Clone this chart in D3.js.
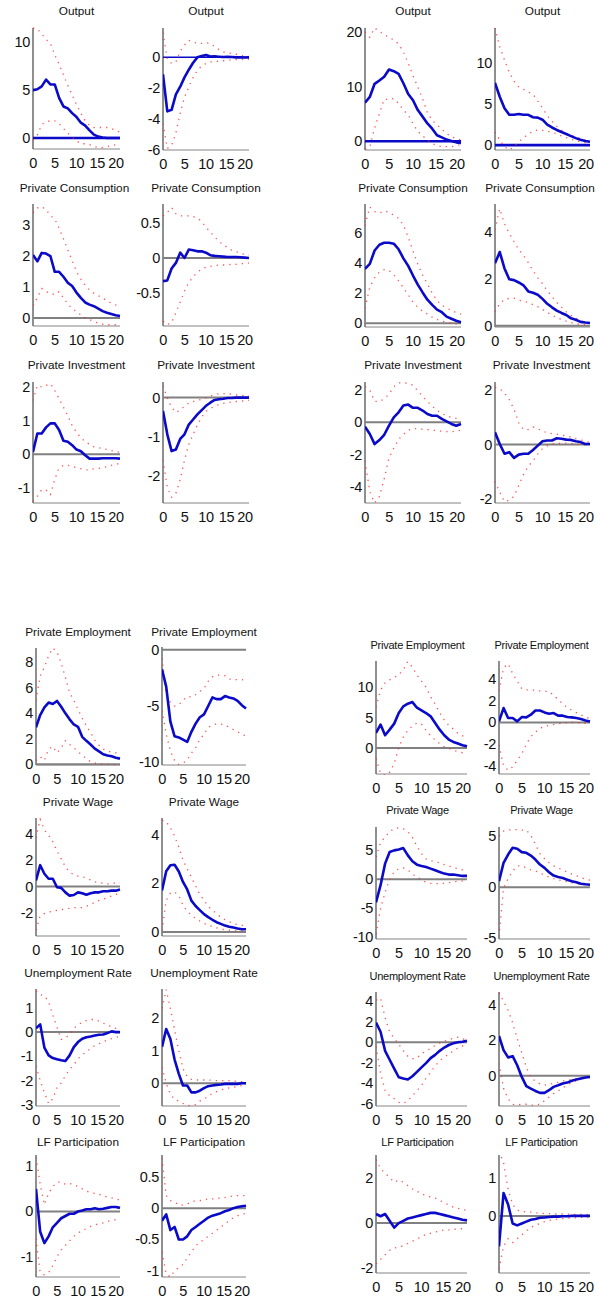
<!DOCTYPE html>
<html><head><meta charset="utf-8">
<script src="https://cdn.jsdelivr.net/npm/d3@7"></script>
<style>
body{margin:0;background:#fff}
svg{display:block}
text{font-family:"Liberation Sans",Arial,sans-serif;fill:#111}
</style>
</head><body>
<svg id="c" width="598" height="1302"></svg>
<script>
// ---------------- DATA ----------------
const horizons = [0,1,2,3,4,5,6,7,8,9,10,11,12,13,14,15,16,17,18,19,20];
const xTickValues = [0,5,10,15,20];
const xTickLabels = ["0","5","10","15","20"];

// Output
const p01_irf=[5.0,5.1,5.4,6.1,5.6,5.6,4.2,3.3,3.1,2.6,2.2,1.6,1.3,0.8,0.35,0.15,0.05,0,0,0,0];
const p01_hi=[11.5,11.4,10.9,10.3,9.9,8.7,7.7,6.6,5.5,4.5,3.5,2.6,1.8,1.3,1.1,1.1,1.1,1.1,1.0,0.8,0.6];
const p01_lo=[-0.2,0.3,1.4,1.7,1.8,1.8,1.5,1.0,0.5,0.1,-0.3,-0.6,-0.6,-0.7,-0.9,-1.0,-1.0,-0.9,-0.8,-0.7,-0.6];
const p02_irf=[-1.1,-3.5,-3.4,-2.4,-1.9,-1.3,-0.8,-0.35,0.0,0.08,0.15,0.05,0.06,0.04,0.02,0.04,0.02,0.0,0.0,-0.01,0.0];
const p02_hi=[1.6,-0.1,-0.4,-0.3,0.4,0.8,1.1,1.0,0.9,0.9,0.95,0.9,0.7,0.5,0.35,0.3,0.25,0.2,0.12,0.08,0.05];
const p02_lo=[-4.3,-5.9,-5.7,-4.9,-3.6,-2.6,-1.9,-1.3,-0.85,-0.55,-0.4,-0.3,-0.27,-0.25,-0.22,-0.2,-0.15,-0.14,-0.13,-0.13,-0.12];
const p03_irf=[7.05,8.1,10.5,11.1,11.8,13.1,12.8,12.3,10.6,8.65,7.5,5.7,4.5,3.25,2.3,1.1,0.7,0.3,0.05,-0.2,-0.3];
const p03_hi=[20,19,20.7,20.1,19.5,19,18.5,17.8,16.3,14.3,12.0,9.9,7.8,5.2,3.8,3.0,2.2,1.4,0.8,0.5,0.2];
const p03_lo=[-1.4,-1.0,2.4,5.1,7.7,7.6,7.8,6.9,5.7,4.8,3.2,1.8,1.0,0.2,-0.4,-0.8,-1.0,-1.0,-1.0,-0.8,-0.6];
const p04_irf=[7.6,5.9,4.5,3.7,3.7,3.8,3.7,3.7,3.4,3.35,3.1,2.5,2.15,1.85,1.6,1.35,1.1,0.85,0.65,0.5,0.4];
const p04_hi=[14.3,12,10.4,8.9,7.8,7.1,6.8,6.5,6.2,5.4,4.5,3.6,2.9,2.3,1.8,1.4,1.2,1.0,0.8,0.6,0.5];
const p04_lo=[1.6,0.6,-0.2,-0.6,-0.2,0.4,0.9,1.3,1.7,1.85,1.8,1.7,1.55,1.4,1.1,0.9,0.7,0.55,0.4,0.3,0.2];
// Private Consumption
const p05_irf=[2.03,1.83,2.1,2.08,2.0,1.49,1.49,1.33,1.14,1.03,0.82,0.65,0.5,0.43,0.38,0.3,0.22,0.17,0.13,0.09,0.065];
const p05_hi=[3.4,3.55,3.6,3.5,3.3,3.2,2.9,2.55,2.2,1.85,1.5,1.25,1.05,0.9,0.8,0.72,0.65,0.55,0.48,0.42,0.38];
const p05_lo=[0.4,0.65,0.95,0.85,0.8,0.75,0.85,0.65,0.45,0.3,0.2,0.1,0.0,-0.05,-0.12,-0.17,-0.2,-0.22,-0.22,-0.22,-0.22];
const p06_irf=[-0.33,-0.32,-0.15,-0.07,0.076,0.0,0.12,0.11,0.095,0.095,0.076,0.04,0.03,0.025,0.02,0.015,0.015,0.015,0.01,0.005,0.0];
const p06_hi=[0.6,0.65,0.72,0.63,0.6,0.6,0.6,0.59,0.57,0.52,0.44,0.37,0.3,0.24,0.19,0.15,0.11,0.09,0.07,0.05,0.04];
const p06_lo=[-0.9,-0.95,-0.92,-0.78,-0.63,-0.47,-0.35,-0.27,-0.2,-0.16,-0.13,-0.12,-0.11,-0.1,-0.1,-0.1,-0.09,-0.09,-0.08,-0.08,-0.07];
const p07_irf=[3.6,3.93,4.82,5.2,5.33,5.33,5.27,4.9,4.3,3.8,3.16,2.56,2.04,1.56,1.22,0.9,0.73,0.44,0.3,0.16,0.07];
const p07_hi=[6.5,7.7,7.4,7.3,7.45,7.35,7.15,6.95,6.5,5.7,4.8,3.9,3.2,2.6,2.0,1.5,1.2,1.0,0.85,0.7,0.6];
const p07_lo=[1.0,2.4,3.0,3.4,3.55,3.5,3.2,2.8,2.35,1.9,1.4,1.05,0.8,0.6,0.4,0.25,0.15,0.05,0.0,-0.05,-0.1];
const p08_irf=[2.67,3.15,2.45,1.99,1.95,1.85,1.73,1.47,1.41,1.33,1.15,0.94,0.79,0.65,0.55,0.46,0.32,0.26,0.17,0.14,0.12];
const p08_hi=[4.1,5.0,4.35,3.95,3.6,3.25,3.0,2.7,2.35,2.05,1.8,1.5,1.25,1.0,0.8,0.6,0.45,0.33,0.22,0.15,0.1];
const p08_lo=[0.6,0.95,1.13,1.17,1.18,1.1,1.05,1.0,0.9,0.82,0.7,0.58,0.45,0.36,0.27,0.2,0.14,0.09,0.06,0.04,0.02];
// Private Investment
const p09_irf=[0.07,0.62,0.62,0.8,0.92,0.92,0.72,0.4,0.37,0.27,0.14,0.09,-0.03,-0.13,-0.13,-0.13,-0.12,-0.12,-0.12,-0.12,-0.13];
const p09_hi=[1.6,2.05,2.0,2.05,2.1,1.9,1.65,1.4,1.15,0.85,0.65,0.5,0.37,0.3,0.22,0.2,0.17,0.14,0.11,0.08,0.06];
const p09_lo=[-1.4,-1.25,-1.05,-1.07,-1.2,-0.75,-0.4,-0.33,-0.33,-0.36,-0.4,-0.43,-0.46,-0.47,-0.43,-0.42,-0.4,-0.37,-0.33,-0.3,-0.27];
const p10_irf=[-0.34,-0.94,-1.37,-1.33,-1.06,-0.94,-0.69,-0.56,-0.43,-0.32,-0.21,-0.13,-0.06,-0.04,-0.03,-0.01,-0.01,0,0,0,0];
const p10_hi=[0.3,0.0,-0.25,-0.38,-0.32,-0.22,-0.14,-0.1,-0.07,-0.04,-0.01,0.04,0.07,0.1,0.1,0.1,0.09,0.07,0.06,0.05,0.04];
const p10_lo=[-1.6,-2.3,-2.55,-2.45,-2.1,-1.6,-1.2,-0.95,-0.7,-0.5,-0.35,-0.28,-0.22,-0.18,-0.15,-0.13,-0.11,-0.1,-0.09,-0.08,-0.07];
const p11_irf=[-0.27,-0.72,-1.35,-1.1,-0.77,-0.21,0.31,0.62,1.04,1.1,0.9,0.9,0.73,0.52,0.41,0.41,0.21,0.06,-0.1,-0.21,-0.1];
const p11_hi=[2.2,2.0,1.3,1.3,1.45,1.75,2.2,2.45,2.45,2.42,2.3,1.95,1.6,1.3,1.0,0.75,0.55,0.4,0.3,0.25,0.2];
const p11_lo=[-2.4,-4.3,-5.0,-4.6,-3.5,-2.2,-1.6,-1.05,-0.75,-0.5,-0.38,-0.4,-0.43,-0.45,-0.48,-0.52,-0.55,-0.57,-0.58,-0.55,-0.48];
const p12_irf=[0.45,0.02,-0.34,-0.28,-0.49,-0.37,-0.34,-0.34,-0.2,-0.04,0.12,0.15,0.15,0.23,0.21,0.18,0.17,0.12,0.09,0.02,0.02];
const p12_hi=[2.1,2.05,1.9,1.65,1.3,0.8,0.55,0.55,0.65,0.58,0.5,0.43,0.4,0.38,0.35,0.32,0.28,0.22,0.17,0.12,0.08];
const p12_lo=[-1.35,-1.75,-2.1,-2.05,-1.9,-1.5,-1.1,-0.8,-0.6,-0.35,-0.15,-0.05,0.02,0.04,0.05,0.05,0.04,0.02,0.0,0.0,0.0];
// Private Employment
const p13_irf=[2.89,3.86,4.46,4.83,4.72,4.96,4.51,3.99,3.52,3.12,2.94,2.15,1.84,1.55,1.23,1.02,0.79,0.7,0.63,0.52,0.45];
const p13_hi=[5.0,6.9,7.6,8.5,9.1,8.8,7.9,6.8,5.6,5.0,4.3,3.6,3.0,2.5,1.9,1.5,1.2,1.05,0.95,0.9,0.85];
const p13_lo=[0.3,0.6,0.3,1.2,1.4,0.9,1.3,1.85,1.55,1.3,1.0,0.7,0.45,0.2,0.1,0.05,0.0,0.0,0.0,-0.03,-0.05];
const p14_irf=[-1.73,-3.28,-6.4,-7.7,-7.8,-8.0,-8.2,-7.3,-6.57,-6.0,-5.75,-5.0,-4.24,-4.39,-4.39,-4.12,-4.24,-4.33,-4.54,-4.93,-5.22];
const p14_hi=[-0.75,-3.9,-4.7,-5.0,-4.9,-4.5,-4.15,-4.2,-4.0,-3.7,-3.45,-2.8,-2.4,-2.25,-2.25,-2.3,-2.6,-2.65,-2.65,-2.65,-2.7];
const p14_lo=[-5.4,-7.5,-9.0,-9.85,-10.2,-10.1,-9.8,-9.2,-8.7,-8.0,-7.5,-6.9,-6.7,-6.6,-6.6,-6.7,-6.9,-7.1,-7.3,-7.5,-7.7];
const p15_irf=[2.46,3.83,2.08,3.0,3.99,5.74,6.83,7.27,7.54,6.61,6.17,5.74,5.19,4.1,3.0,2.08,1.37,0.98,0.71,0.44,0.27];
const p15_hi=[6.7,9.5,10.7,11.2,11.6,12.0,12.9,14.2,13.3,12.0,11.0,10.0,8.4,7.2,5.8,4.6,3.7,3.1,2.4,2.0,1.7];
const p15_lo=[-1.75,-4.2,-4.5,-4.0,-2.6,0.0,1.8,2.9,3.6,4.1,3.9,2.9,2.0,1.3,0.7,0.2,-0.1,-0.4,-0.6,-0.8,-0.85];
const p16_irf=[0.09,1.32,0.4,0.4,0.09,0.49,0.46,0.71,1.1,1.1,0.92,0.8,0.86,0.62,0.62,0.49,0.46,0.4,0.31,0.18,0.09];
const p16_hi=[2.9,5.0,5.4,4.5,3.8,3.1,3.0,3.0,2.95,2.9,2.85,2.85,2.5,2.1,1.7,1.4,1.1,0.9,0.7,0.5,0.35];
const p16_lo=[-2.1,-4.0,-4.4,-4.1,-3.5,-2.9,-2.0,-1.3,-0.9,-0.55,-0.37,-0.27,-0.2,-0.12,-0.06,-0.02,0.0,0.0,-0.05,-0.06,-0.05];
// Private Wage
const p17_irf=[0.46,1.62,0.97,0.59,0.59,-0.05,-0.1,-0.44,-0.69,-0.64,-0.44,-0.51,-0.62,-0.51,-0.44,-0.44,-0.36,-0.36,-0.31,-0.31,-0.23];
const p17_hi=[3.7,5.1,4.3,3.9,3.4,2.7,2.1,1.5,1.1,0.9,0.8,0.75,0.65,0.5,0.35,0.3,0.25,0.2,0.2,0.3,0.3];
const p17_lo=[-3.3,-2.2,-2.05,-1.95,-1.85,-1.8,-1.75,-1.7,-1.65,-1.6,-1.6,-1.6,-1.5,-1.35,-1.2,-1.05,-0.95,-0.85,-0.7,-0.6,-0.5];
const p18_irf=[1.71,2.5,2.75,2.77,2.49,2.06,1.75,1.29,1.07,0.9,0.73,0.61,0.5,0.4,0.33,0.26,0.21,0.18,0.14,0.11,0.11];
const p18_hi=[4.6,4.55,4.3,3.95,3.5,2.95,2.6,2.25,1.9,1.55,1.3,1.05,0.9,0.75,0.6,0.5,0.42,0.35,0.3,0.27,0.25];
const p18_lo=[0.05,1.3,1.6,1.65,1.5,1.1,0.85,0.7,0.55,0.45,0.35,0.28,0.22,0.17,0.12,0.09,0.07,0.05,0.04,0.04,0.04];
const p19_irf=[-4.0,-1.03,2.69,4.69,4.97,5.14,5.37,4.11,3.09,2.51,2.29,2.11,1.83,1.54,1.26,0.97,0.8,0.8,0.69,0.57,0.57];
const p19_hi=[3.8,6.3,7.3,8.2,8.7,8.85,8.7,8.2,7.2,5.7,4.4,3.5,3.2,3.0,2.8,2.5,2.3,2.0,1.8,1.6,1.5];
const p19_lo=[-9.5,-5.0,-2.3,0.0,1.3,1.8,1.95,1.6,0.9,0.4,-0.1,-0.55,-0.7,-0.75,-0.75,-0.7,-0.6,-0.45,-0.35,-0.3,-0.3];
const p20_irf=[0.59,2.39,3.21,3.87,3.77,3.44,3.38,3.11,2.72,2.23,1.9,1.48,1.15,1.02,0.92,0.75,0.59,0.49,0.36,0.3,0.26];
const p20_hi=[5.0,5.5,5.6,5.65,5.65,5.6,5.6,5.1,4.2,3.3,2.8,2.4,2.1,1.9,1.7,1.5,1.3,1.15,0.95,0.8,0.7];
const p20_lo=[-4.8,-0.1,0.85,1.6,2.1,2.1,1.9,1.7,1.6,1.4,1.2,1.0,0.85,0.72,0.63,0.55,0.45,0.36,0.3,0.26,0.22];
// Unemployment Rate
const p21_irf=[0.16,0.32,-0.64,-0.96,-1.07,-1.12,-1.16,-1.19,-0.96,-0.62,-0.41,-0.27,-0.21,-0.18,-0.14,-0.11,-0.1,-0.04,0.03,0.0,0.0];
const p21_hi=[1.7,1.55,1.5,1.25,0.7,0.2,-0.3,-0.25,-0.1,0.15,0.3,0.4,0.48,0.52,0.52,0.45,0.37,0.3,0.22,0.15,0.1];
const p21_lo=[-1.4,-2.0,-2.5,-2.95,-2.75,-2.3,-2.1,-1.8,-1.55,-1.35,-1.1,-0.95,-0.8,-0.68,-0.55,-0.48,-0.4,-0.33,-0.27,-0.22,-0.18];
const p22_irf=[1.12,1.67,1.36,0.73,0.29,-0.07,-0.07,-0.28,-0.28,-0.23,-0.15,-0.09,-0.07,-0.05,-0.04,-0.02,-0.02,-0.02,-0.02,0,0];
const p22_hi=[2.3,2.88,2.3,1.64,1.0,0.45,0.2,0.12,0.1,0.1,0.1,0.1,0.09,0.08,0.08,0.08,0.08,0.07,0.06,0.05,0.04];
const p22_lo=[0.5,0.0,-0.33,-0.5,-0.55,-0.62,-0.68,-0.69,-0.66,-0.55,-0.49,-0.4,-0.31,-0.26,-0.21,-0.17,-0.14,-0.12,-0.1,-0.07,-0.06];
const p23_irf=[1.92,1.03,-0.83,-1.7,-2.56,-3.4,-3.53,-3.62,-3.3,-2.88,-2.44,-2.02,-1.54,-1.22,-0.83,-0.51,-0.26,-0.1,0.0,0.06,0.16];
const p23_hi=[4.1,4.3,2.4,1.0,0.4,-0.2,-0.8,-1.35,-1.6,-1.55,-1.1,-0.85,-0.6,-0.3,-0.05,0.1,0.25,0.4,0.5,0.35,0.2];
const p23_lo=[-0.4,-3.0,-4.7,-5.2,-5.5,-5.85,-5.95,-5.7,-5.2,-4.7,-4.2,-3.5,-2.9,-2.3,-1.8,-1.45,-1.15,-0.85,-0.55,-0.35,-0.25];
const p24_irf=[2.25,1.45,1.04,1.11,0.6,-0.06,-0.58,-0.72,-0.85,-0.96,-0.96,-0.81,-0.62,-0.53,-0.43,-0.38,-0.28,-0.21,-0.15,-0.09,-0.06];
const p24_hi=[4.7,4.2,3.7,3.0,2.1,1.3,0.5,-0.1,-0.3,-0.45,-0.52,-0.5,-0.4,-0.35,-0.28,-0.24,-0.2,-0.15,-0.1,-0.07,-0.05];
const p24_lo=[0.7,-0.7,-1.3,-1.6,-1.65,-1.6,-1.6,-1.65,-1.65,-1.6,-1.4,-1.2,-1.0,-0.85,-0.68,-0.5,-0.38,-0.27,-0.15,-0.1,-0.05];
// LF Participation
const p25_irf=[0.5,-0.45,-0.7,-0.55,-0.35,-0.25,-0.15,-0.1,-0.05,-0.05,0.0,0.02,0.05,0.05,0.07,0.05,0.06,0.08,0.1,0.1,0.08];
const p25_hi=[1.2,0.6,0.15,0.4,0.55,0.65,0.65,0.6,0.62,0.6,0.55,0.5,0.45,0.42,0.4,0.38,0.35,0.32,0.3,0.28,0.25];
const p25_lo=[-0.6,-1.35,-1.4,-1.35,-1.2,-1.0,-0.85,-0.75,-0.65,-0.55,-0.48,-0.42,-0.38,-0.33,-0.3,-0.27,-0.25,-0.22,-0.2,-0.18,-0.15];
const p26_irf=[-0.2,-0.1,-0.35,-0.3,-0.5,-0.5,-0.45,-0.35,-0.3,-0.25,-0.2,-0.15,-0.12,-0.1,-0.08,-0.05,-0.03,0.0,0.02,0.03,0.04];
const p26_hi=[0.8,0.2,0.12,0.1,0.05,0.05,0.07,0.1,0.12,0.12,0.13,0.15,0.15,0.15,0.17,0.17,0.18,0.2,0.2,0.2,0.2];
const p26_lo=[-0.7,-1.05,-1.1,-1.0,-0.95,-0.9,-0.8,-0.7,-0.6,-0.55,-0.5,-0.45,-0.4,-0.35,-0.3,-0.25,-0.2,-0.15,-0.12,-0.1,-0.08];
const p27_irf=[0.4,0.3,0.4,0.1,-0.2,0.0,0.1,0.2,0.25,0.3,0.35,0.4,0.45,0.45,0.4,0.35,0.3,0.25,0.2,0.15,0.12];
const p27_hi=[2.8,2.4,2.2,2.0,1.8,1.9,1.8,1.65,1.5,1.4,1.3,1.2,1.15,1.1,1.0,0.9,0.8,0.7,0.65,0.6,0.55];
const p27_lo=[-1.8,-1.6,-1.4,-1.2,-1.1,-1.05,-1.0,-0.9,-0.8,-0.7,-0.6,-0.5,-0.45,-0.4,-0.35,-0.3,-0.3,-0.28,-0.25,-0.25,-0.2];
const p28_irf=[-0.8,0.6,0.3,-0.2,-0.25,-0.2,-0.15,-0.1,-0.08,-0.05,-0.04,-0.03,-0.02,-0.02,-0.01,-0.01,0,0,0,0,0];
const p28_hi=[1.7,1.4,0.7,0.3,0.15,0.12,0.1,0.1,0.08,0.07,0.06,0.06,0.05,0.05,0.05,0.05,0.04,0.04,0.04,0.04,0.03];
const p28_lo=[-1.4,-0.8,-0.6,-0.7,-0.6,-0.5,-0.4,-0.3,-0.25,-0.2,-0.15,-0.12,-0.1,-0.08,-0.07,-0.06,-0.05,-0.05,-0.04,-0.04,-0.03];

// y tick values
const p01_yt=[0,5,10], p02_yt=[-6,-4,-2,0], p03_yt=[0,10,20], p04_yt=[0,5,10];
const p05_yt=[0,1,2,3], p06_yt=[-0.5,0,0.5], p07_yt=[0,2,4,6], p08_yt=[0,2,4];
const p09_yt=[-1,0,1,2], p10_yt=[-2,-1,0], p11_yt=[-4,-2,0,2], p12_yt=[-2,0,2];
const p13_yt=[0,2,4,6,8], p14_yt=[-10,-5,0], p15_yt=[0,5,10], p16_yt=[-4,-2,0,2,4];
const p17_yt=[-2,0,2,4], p18_yt=[0,2,4], p19_yt=[-10,-5,0,5], p20_yt=[-5,0,5];
const p21_yt=[-3,-2,-1,0,1], p22_yt=[0,1,2], p23_yt=[-6,-4,-2,0,2,4], p24_yt=[0,2,4];
const p25_yt=[-1,0,1], p26_yt=[-1,-0.5,0,0.5], p27_yt=[-2,0,2], p28_yt=[0,1];

// ---------------- LAYOUT ----------------
const T = {O:"Output",C:"Private Consumption",I:"Private Investment",E:"Private Employment",W:"Private Wage",U:"Unemployment Rate",L:"LF Participation"};
// [title, irf, lo, hi, yticks, domain, x0, x1, y0, y1, zeroColor, zeroWidth, titleStyle, titleDy, titleDx]
const panels = [
 [T.O,p01_irf,p01_lo,p01_hi,p01_yt,[-1.15,11.5],33,120,28,149,"blue",2.6,"a",-16,0],
 [T.O,p02_irf,p02_lo,p02_hi,p02_yt,[-6,1.9],163,249,28,150,"blue",1.5,"a",-16,0],
 [T.O,p03_irf,p03_lo,p03_hi,p03_yt,[-1.6,20.7],365,461,28,150,"blue",2.6,"a",-16,0],
 [T.O,p04_irf,p04_lo,p04_hi,p04_yt,[-0.6,14.3],495,590,28,150,"blue",2.6,"a",-16,0],
 [T.C,p05_irf,p05_lo,p05_hi,p05_yt,[-0.26,3.68],33,120,204,326,"gray",2,"a",-15,-2],
 [T.C,p06_irf,p06_lo,p06_hi,p06_yt,[-0.97,0.77],163,249,204,326,"gray",2,"a",-15,0],
 [T.C,p07_irf,p07_lo,p07_hi,p07_yt,[-0.25,7.9],365,461,204,327,"gray",2,"a",-15,0],
 [T.C,p08_irf,p08_lo,p08_hi,p08_yt,[-0.05,5.2],495,590,204,327,"gray",2,"a",-15,-2.5],
 [T.I,p09_irf,p09_lo,p09_hi,p09_yt,[-1.45,2.15],33,120,382,503,"gray",2,"a",-16,0],
 [T.I,p10_irf,p10_lo,p10_hi,p10_yt,[-2.7,0.4],163,249,382,503,"gray",2,"a",-16,0],
 [T.I,p11_irf,p11_lo,p11_hi,p11_yt,[-5,2.5],365,461,382,503,"gray",2,"a",-16,0],
 [T.I,p12_irf,p12_lo,p12_hi,p12_yt,[-2.15,2.3],495,590,382,503,"gray",2,"a",-16,-1],
 [T.E,p13_irf,p13_lo,p13_hi,p13_yt,[-0.05,9.1],36,120,648,765,"gray",2,"a",-15,0],
 [T.E,p14_irf,p14_lo,p14_hi,p14_yt,[-10.25,0.25],162,246,647,765,"gray",2,"a",-14,0],
 [T.E,p15_irf,p15_lo,p15_hi,p15_yt,[-4.3,14.3],376,467,661,774,"gray",2,"b",-15,-4],
 [T.E,p16_irf,p16_lo,p16_hi,p16_yt,[-4.75,5.65],499,590,661,774,"gray",2,"b",-15,-3],
 [T.W,p17_irf,p17_lo,p17_hi,p17_yt,[-3.75,5.2],36,120,818,936,"gray",2,"a",-15,0],
 [T.W,p18_irf,p18_lo,p18_hi,p18_yt,[-0.17,4.7],162,246,818,936,"gray",2,"a",-15,0],
 [T.W,p19_irf,p19_lo,p19_hi,p19_yt,[-10.3,9.0],376,467,827,939,"gray",2,"b",-16,-4],
 [T.W,p20_irf,p20_lo,p20_hi,p20_yt,[-5.05,5.9],499,590,827,939,"gray",2,"b",-16,-3],
 [T.U,p21_irf,p21_lo,p21_hi,p21_yt,[-3.05,1.78],36,120,989,1106,"gray",2,"a",-15,0],
 [T.U,p22_irf,p22_lo,p22_hi,p22_yt,[-0.7,2.9],162,246,989,1106,"gray",2,"a",-15,0],
 [T.U,p23_irf,p23_lo,p23_hi,p23_yt,[-6.2,4.9],376,467,992,1106,"gray",2,"b",-15,-4],
 [T.U,p24_irf,p24_lo,p24_hi,p24_yt,[-1.7,4.73],499,590,992,1106,"gray",2,"b",-15,-3],
 [T.L,p25_irf,p25_lo,p25_hi,p25_yt,[-1.45,1.25],36,120,1155,1277,"gray",2,"a",-12,0],
 [T.L,p26_irf,p26_lo,p26_hi,p26_yt,[-1.1,0.85],162,246,1155,1277,"gray",2,"a",-12,0],
 [T.L,p27_irf,p27_lo,p27_hi,p27_yt,[-2.2,3.0],376,467,1155,1273,"gray",2,"b",-12,-4],
 [T.L,p28_irf,p28_lo,p28_hi,p28_yt,[-1.5,1.6],499,590,1155,1273,"gray",2,"b",-12,-3]
];

const BLUE = "#0a0ac8";
const RED = "#ff2a2a";
const GRAY = "#808080";
const xLabelDx = [0,0,0,-1,-4];

const svg = d3.select("#c");
panels.forEach((p, i) => {
  const [title, irf, lo, hi, yt, dom, x0, x1, y0, y1, zc, zw, ts, tdy, tdx] = p;
  const x = d3.scaleLinear().domain([0,20]).range([x0,x1]);
  const y = d3.scaleLinear().domain(dom).range([y1,y0]);
  const g = svg.append("g");
  const cid = "clip" + i;
  svg.append("clipPath").attr("id", cid).append("rect")
    .attr("x", x0).attr("y", y0 - 1).attr("width", x1 - x0 + 1).attr("height", y1 - y0 + 2);

  // title
  g.append("text").attr("x", (x0 + x1) / 2 + tdx).attr("y", y0 + tdy)
    .attr("text-anchor", "middle").attr("dominant-baseline", "middle")
    .style("font-size", ts === "a" ? "11.8px" : "11px")
    .style("letter-spacing", ts === "a" ? "0px" : "-0.25px")
    .text(title);

  // axes lines
  g.append("line").attr("x1", x0).attr("x2", x0).attr("y1", y0).attr("y2", y1)
    .attr("stroke", "#333").attr("stroke-width", 1.1);
  g.append("line").attr("x1", x0).attr("x2", x1).attr("y1", y1).attr("y2", y1)
    .attr("stroke", "#666").attr("stroke-width", 0.8);
  yt.forEach(v => {
    g.append("text").attr("x", x0 - 3).attr("y", y(v))
      .attr("text-anchor", "end").attr("dominant-baseline", "central")
      .style("font-size", "14.5px").style("letter-spacing", "-0.3px").text(String(v));
  });
  xTickValues.forEach((v, k) => {
    g.append("text").attr("x", x(v) + xLabelDx[k]).attr("y", y1 + 14)
      .attr("text-anchor", "middle").attr("dominant-baseline", "central")
      .style("font-size", "14.5px").style("letter-spacing", "-0.4px").text(xTickLabels[k]);
  });

  const pg = g.append("g").attr("clip-path", `url(#${cid})`);
  // zero line
  pg.append("line").attr("x1", x0).attr("x2", x1).attr("y1", y(0)).attr("y2", y(0))
    .attr("stroke", zc === "blue" ? BLUE : GRAY).attr("stroke-width", zw);

  const line = d3.line().x((d, k) => x(horizons[k])).y(d => y(d));
  [hi, lo].forEach(s => {
    pg.append("path").attr("d", line(s)).attr("fill", "none")
      .attr("stroke", RED).attr("stroke-width", 1.3)
      .attr("stroke-dasharray", "1.3,5").attr("opacity", 0.8);
  });
  pg.append("path").attr("d", line(irf)).attr("fill", "none")
    .attr("stroke", BLUE).attr("stroke-width", 2.6)
    .attr("stroke-linejoin", "round");
});
</script>
</body></html>
